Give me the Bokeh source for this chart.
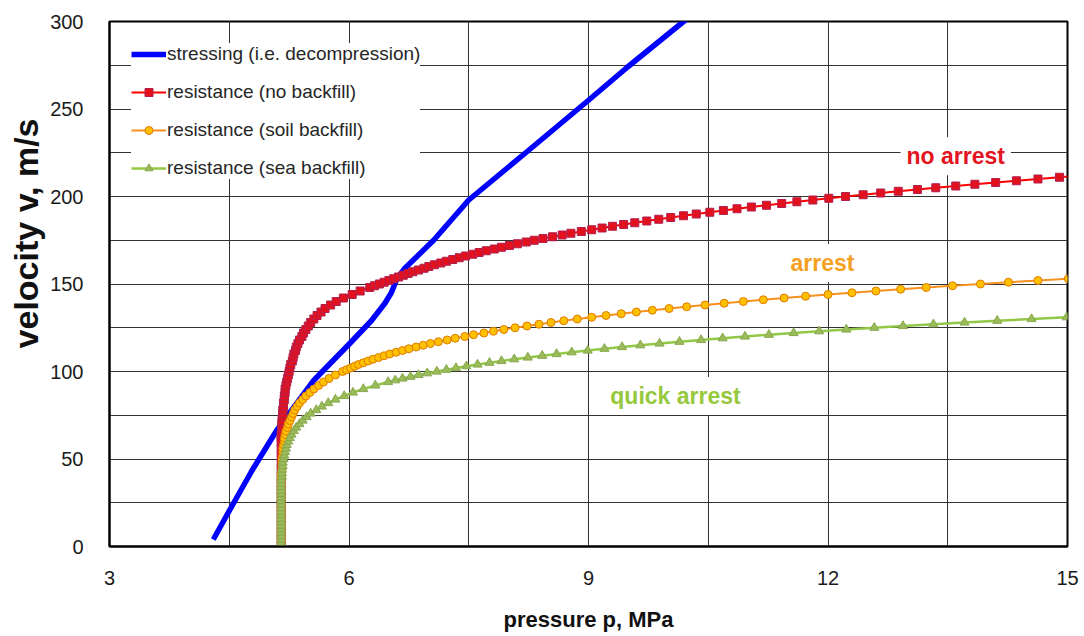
from bokeh.plotting import figure
from bokeh.models import ColumnDataSource, FixedTicker, Legend, LegendItem, Label, Range1d, Title
from bokeh.embed import file_html
from bokeh.resources import INLINE

# ---------------- data ----------------
x_ticks = [3, 6, 9, 12, 15]
x_grid = [4.5, 6, 7.5, 9, 10.5, 12, 13.5]
y_ticks = [0, 50, 100, 150, 200, 250, 300]
y_grid = [25, 50, 75, 100, 125, 150, 175, 200, 225, 250, 275]

# stressing (decompression) curve
stress_p = [4.30, 4.52, 4.78, 5.09, 5.56, 6.03, 6.28, 6.45, 6.53, 6.60, 6.70, 7.06, 7.50, 8.24, 9.00, 9.49, 10.19, 10.30]
stress_v = [4, 22, 43, 66, 95, 117, 129, 139, 145, 153, 159, 175, 198, 226, 255, 274, 300, 304]

# resistance, no backfill
red_v = [0, 4, 8, 12, 16, 20, 24, 28, 32, 36, 40, 44, 48, 52, 56,
         60, 62, 64, 66, 68, 70, 72, 74, 76, 78,
         80, 82, 84, 86, 88, 90, 92, 94, 96, 98,
         100, 102, 104, 106, 108, 110, 112, 114, 116, 118,
         120, 122, 124, 126, 128, 130, 132, 134, 136, 138,
         140, 142, 144, 146, 148,
         149, 150, 151, 152, 153, 154, 155, 156, 157, 158,
         159, 160, 161, 162, 163, 164, 165, 166, 167, 168,
         169, 170, 171, 172, 173, 174, 175, 176, 177, 178,
         179, 180, 181, 182, 183, 184, 185, 186, 187, 188,
         189, 190, 191, 192, 193, 194, 195, 196, 197, 198,
         199, 200, 201, 202, 203, 204, 205, 206, 207, 208,
         209, 210, 211, 212]
red_p = [5.15, 5.15, 5.15, 5.15, 5.15, 5.15, 5.15, 5.15, 5.15, 5.15, 5.15, 5.15, 5.15, 5.15, 5.15,
         5.15, 5.15, 5.15, 5.16, 5.16, 5.16, 5.16, 5.17, 5.17, 5.17,
         5.18, 5.18, 5.19, 5.19, 5.20, 5.20, 5.21, 5.22, 5.23, 5.24,
         5.25, 5.26, 5.27, 5.29, 5.30, 5.31, 5.33, 5.34, 5.36, 5.38,
         5.41, 5.43, 5.46, 5.49, 5.52, 5.56, 5.60, 5.65, 5.70, 5.77,
         5.84, 5.93, 6.04, 6.14, 6.26,
         6.32, 6.38, 6.44, 6.50, 6.56, 6.62, 6.68, 6.74, 6.80, 6.87,
         6.94, 7.00, 7.07, 7.15, 7.22, 7.30, 7.38, 7.46, 7.55, 7.63,
         7.72, 7.82, 7.91, 8.01, 8.11, 8.22, 8.32, 8.43, 8.55, 8.67,
         8.78, 8.91, 9.04, 9.17, 9.30, 9.44, 9.58, 9.73, 9.88, 10.03,
         10.19, 10.35, 10.52, 10.69, 10.86, 11.04, 11.23, 11.42, 11.61, 11.81,
         12.01, 12.22, 12.44, 12.66, 12.88, 13.12, 13.35, 13.60, 13.84, 14.10,
         14.36, 14.63, 14.90, 15.18]

# resistance, soil backfill
orange_v = [0, 2, 4, 6, 8, 10, 12, 14, 16, 18, 20, 22, 24, 26, 28, 30, 32, 34, 36, 38,
            40, 42, 44, 46, 48, 50, 52, 54, 56, 58,
            60, 62, 64, 66, 68, 70, 72, 74, 76, 78,
            80, 82, 84, 86, 88, 90, 92, 94, 96, 98,
            100, 101, 102, 103, 104, 105, 106, 107, 108, 109,
            110, 111, 112, 113, 114, 115, 116, 117, 118, 119,
            120, 121, 122, 123, 124, 125, 126, 127, 128, 129,
            130, 131, 132, 133, 134, 135, 136, 137, 138, 139,
            140, 141, 142, 143, 144, 145, 146, 147, 148, 149,
            150, 151, 152, 153, 154]
orange_p = [5.15, 5.15, 5.15, 5.15, 5.15, 5.15, 5.15, 5.15, 5.15, 5.15, 5.15, 5.15, 5.15, 5.15, 5.15, 5.15, 5.15, 5.15, 5.15, 5.15,
            5.15, 5.15, 5.16, 5.16, 5.16, 5.16, 5.17, 5.17, 5.17, 5.18,
            5.19, 5.19, 5.20, 5.21, 5.23, 5.24, 5.26, 5.28, 5.30, 5.32,
            5.35, 5.38, 5.42, 5.46, 5.51, 5.56, 5.62, 5.68, 5.75, 5.83,
            5.92, 5.97, 6.02, 6.07, 6.12, 6.18, 6.24, 6.30, 6.37, 6.44,
            6.51, 6.59, 6.67, 6.75, 6.84, 6.93, 7.02, 7.12, 7.23, 7.33,
            7.45, 7.56, 7.69, 7.81, 7.94, 8.08, 8.23, 8.38, 8.53, 8.69,
            8.86, 9.04, 9.22, 9.41, 9.60, 9.80, 10.01, 10.23, 10.46, 10.70,
            10.94, 11.19, 11.45, 11.72, 12.00, 12.30, 12.60, 12.91, 13.23, 13.56,
            13.91, 14.26, 14.63, 15.01, 15.41]

# resistance, sea backfill
green_v = [0, 2, 4, 6, 8, 10, 12, 14, 16, 18, 20, 22, 24, 26, 28, 30, 32, 34, 36, 38,
           40, 42, 44, 46, 48, 50, 52, 54, 56, 58,
           60, 62, 64, 66, 68, 70, 72, 74, 76, 78,
           80, 82, 84, 86, 88, 90, 92, 94,
           95, 96, 97, 98, 99, 100, 101, 102, 103, 104,
           105, 106, 107, 108, 109, 110, 111, 112, 113, 114,
           115, 116, 117, 118, 119, 120, 121, 122, 123, 124,
           125, 126, 127, 128, 129, 130, 131, 132]
green_p = [5.15, 5.15, 5.15, 5.15, 5.15, 5.15, 5.15, 5.15, 5.15, 5.15, 5.15, 5.15, 5.15, 5.15, 5.15, 5.15, 5.15, 5.15, 5.15, 5.15,
           5.16, 5.16, 5.16, 5.17, 5.17, 5.18, 5.19, 5.20, 5.21, 5.22,
           5.24, 5.26, 5.28, 5.31, 5.34, 5.38, 5.42, 5.47, 5.52, 5.59,
           5.66, 5.74, 5.83, 5.94, 6.05, 6.18, 6.33, 6.49,
           6.58, 6.67, 6.77, 6.87, 6.98, 7.10, 7.22, 7.34, 7.47, 7.61,
           7.76, 7.91, 8.07, 8.24, 8.42, 8.60, 8.79, 8.99, 9.20, 9.42,
           9.65, 9.89, 10.14, 10.41, 10.68, 10.96, 11.26, 11.57, 11.89, 12.23,
           12.58, 12.94, 13.32, 13.71, 14.12, 14.55, 14.99, 15.45]

legend_labels = ["stressing (i.e. decompression)", "resistance (no backfill)",
                 "resistance (soil backfill)", "resistance (sea backfill)"]

FONT = "Liberation Sans"

p = figure(width=1084, height=636, output_backend="svg", toolbar_location=None,
           x_range=Range1d(3, 15), y_range=Range1d(0, 300),
           min_border_left=109, min_border_right=17, min_border_top=21, min_border_bottom=90,
           background_fill_color="white", border_fill_color="white")

p.outline_line_color = "black"
p.outline_line_width = 2

p.xaxis.ticker = FixedTicker(ticks=x_ticks)
p.yaxis.ticker = FixedTicker(ticks=y_ticks)
p.xgrid.ticker = FixedTicker(ticks=x_grid)
p.ygrid.ticker = FixedTicker(ticks=y_grid)
for g in (p.xgrid, p.ygrid):
    g.grid_line_color = "#333333"
    g.grid_line_width = 1

for ax in (p.xaxis, p.yaxis):
    ax.axis_line_color = "black"
    ax.axis_line_width = 2
    ax.major_tick_line_color = None
    ax.minor_tick_line_color = None
    ax.major_label_text_font = FONT
    ax.major_label_text_font_size = "20px"
    ax.major_label_text_color = "#1a1a1a"

p.xaxis.major_label_standoff = 18
p.yaxis.major_label_standoff = 20

p.xaxis.axis_label = "pressure p, MPa"
p.xaxis.axis_label_text_font = FONT
p.xaxis.axis_label_text_font_style = "bold"
p.xaxis.axis_label_text_font_size = "22px"
p.xaxis.axis_label_text_color = "#111111"
p.xaxis.axis_label_standoff = 19

# y-axis title, placed a little above the frame's centre as in the reference
p.add_layout(Title(text="velocity v, m/s", align="right", offset=97,
                   text_font=FONT, text_font_style="bold", text_font_size="34px",
                   text_color="#111111", standoff=6), "left")

# data sources
s_src = ColumnDataSource(dict(p=stress_p, v=stress_v))
r_src = ColumnDataSource(dict(p=red_p, v=red_v))
o_src = ColumnDataSource(dict(p=orange_p, v=orange_v))
g_src = ColumnDataSource(dict(p=green_p, v=green_v))

blue = p.line("p", "v", source=s_src, line_color="#0000FF", line_width=5.5)

red_l = p.line("p", "v", source=r_src, line_color="#FF0000", line_width=2)
red_m = p.scatter("p", "v", source=r_src, marker="square", size=8,
                  fill_color="#E3101E", line_color="#B0204E", line_width=1)

or_l = p.line("p", "v", source=o_src, line_color="#F7901E", line_width=2)
or_m = p.scatter("p", "v", source=o_src, marker="circle", size=8,
                 fill_color="#FFC000", line_color="#E07B00", line_width=1)

gr_l = p.line("p", "v", source=g_src, line_color="#92C845", line_width=2.5)
gr_m = p.scatter("p", "v", source=g_src, marker="triangle", size=9,
                 fill_color="#9BBB59", line_color="#86A84E", line_width=1)

legend = Legend(items=[
    LegendItem(label=legend_labels[0], renderers=[blue]),
    LegendItem(label=legend_labels[1], renderers=[red_l, red_m]),
    LegendItem(label=legend_labels[2], renderers=[or_l, or_m]),
    LegendItem(label=legend_labels[3], renderers=[gr_l, gr_m]),
], location="top_left")
legend.margin = 22
legend.padding = 8
legend.spacing = 16
legend.glyph_width = 35
legend.glyph_height = 20
legend.label_height = 20
legend.label_standoff = 1
legend.label_text_font = FONT
legend.label_text_font_size = "19px"
legend.label_text_color = "#262626"
legend.border_line_color = None
legend.background_fill_color = "white"
legend.background_fill_alpha = 1.0
p.add_layout(legend)

# annotations
def add_label(x, y, text, color):
    p.add_layout(Label(x=x, y=y, text=text, text_align="center", text_baseline="middle",
                       text_font=FONT, text_font_style="bold", text_font_size="23px",
                       text_color=color, background_fill_color="white",
                       background_fill_alpha=1.0, padding=6))

add_label(13.6, 223, "no arrest", "#E3141E")
add_label(11.93, 162, "arrest", "#F5A01E")
add_label(10.09, 86, "quick arrest", "#96C83C")

open("out.html", "w").write(file_html(p, INLINE))
